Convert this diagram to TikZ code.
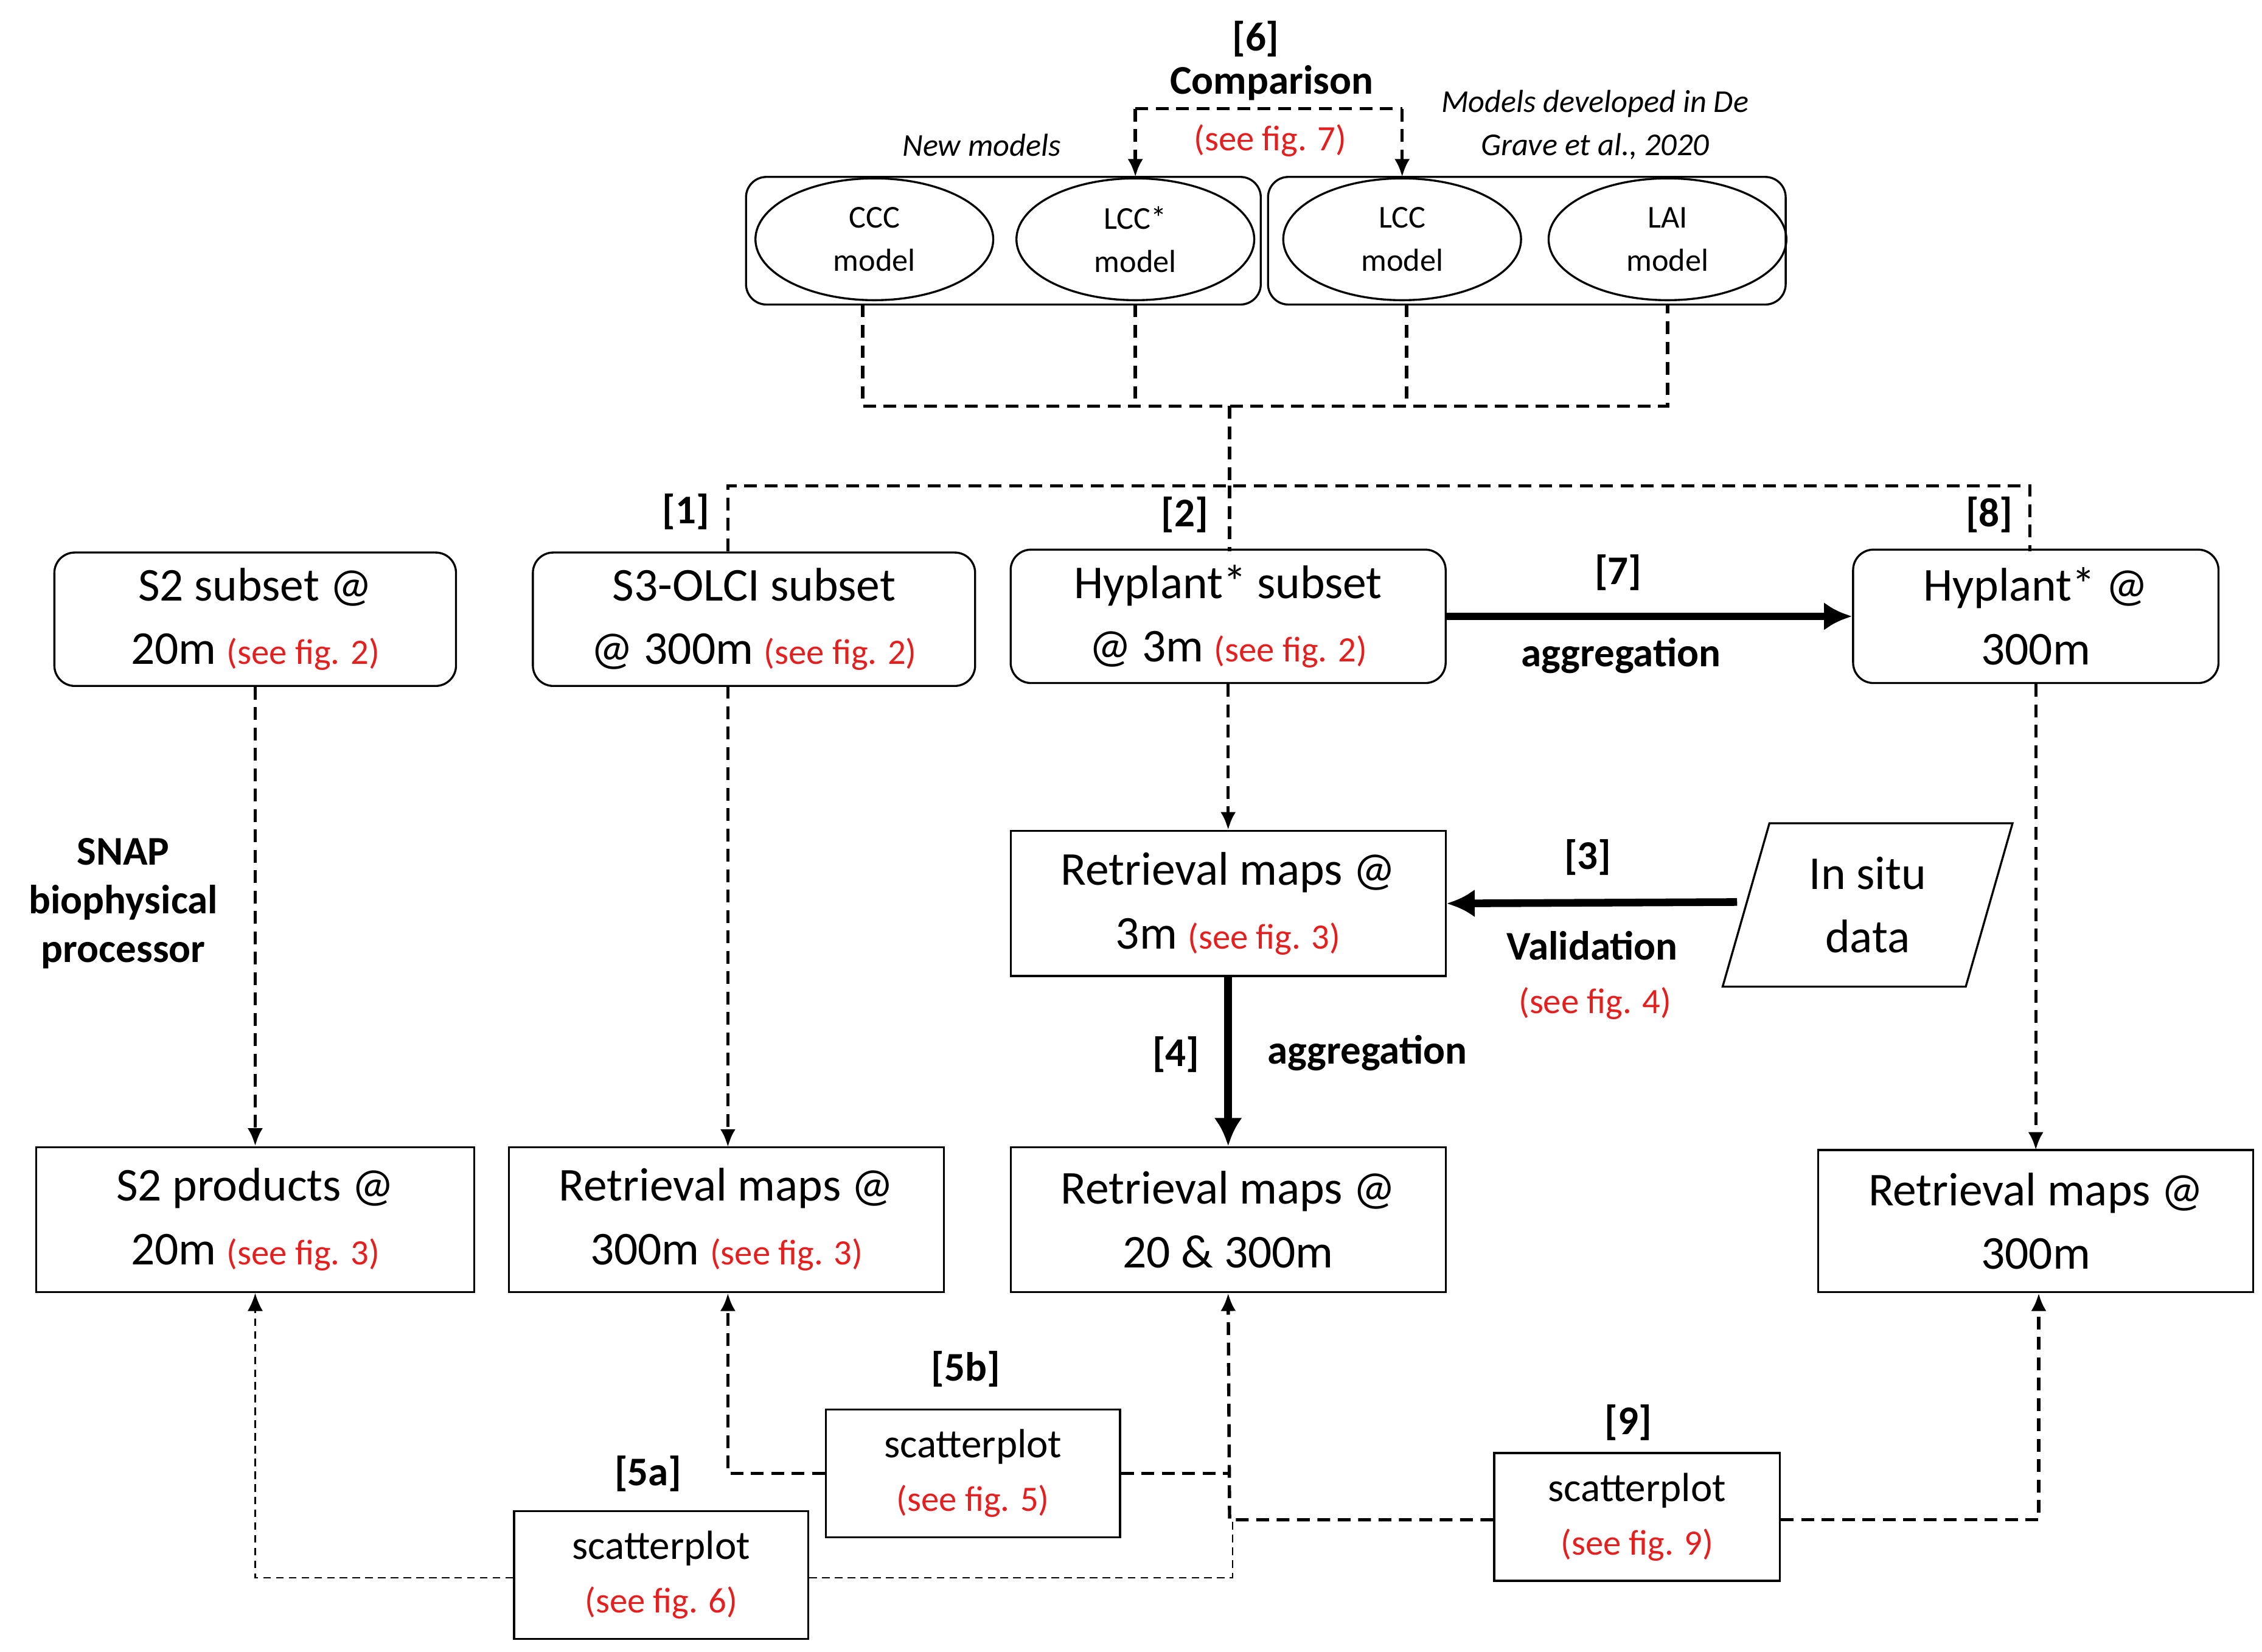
\documentclass[tikz,border=0pt]{standalone}
\usepackage{fontspec}
\setmainfont{Carlito}
\usetikzlibrary{arrows.meta,shapes.geometric}
\definecolor{rd}{RGB}{230,30,30}
\newcommand{\seefig}[1]{{\fontsize{14}{16}\selectfont\color{rd}#1}}
\begin{document}
\begin{tikzpicture}[x=0.02cm,y=-0.02cm,
 big/.style={draw,thick,minimum width=#1*0.02cm,minimum height=92*0.02cm,align=center,font=\fontsize{18.5}{25}\selectfont,inner sep=1pt},
 rbig/.style={big=#1,rounded corners=8pt},
 ell/.style={draw,thick,ellipse,minimum width=164*0.02cm,minimum height=84*0.02cm,align=center,font=\fontsize{12.5}{17}\selectfont},
 lab/.style={font=\bfseries\fontsize{16}{19}\selectfont,align=center},
 dsh/.style={line width=1.3pt,dash pattern=on 5pt off 3pt},
 ar/.style={-{Latex[length=7pt,width=6pt]}},
 tar/.style={line width=3pt,-{Latex[length=11pt,width=11pt]}},
 sc/.style={draw,thick,minimum width=#1*0.02cm,minimum height=88*0.02cm,align=center,font=\fontsize{16}{21}\selectfont}]
\useasboundingbox (0,0) rectangle (1560,1139);
% top groups
\node[draw,thick,rounded corners=8pt,minimum width=355*0.02cm,minimum height=88*0.02cm] (g1) at (692,166) {};
\node[draw,thick,rounded corners=8pt,minimum width=357*0.02cm,minimum height=88*0.02cm] (g2) at (1053,166) {};
\node[ell] (ccc) at (603,165) {CCC\\model};
\node[ell] (lccs) at (783,165) {LCC*\\model};
\node[ell] (lcc) at (967,165) {LCC\\model};
\node[ell] (lai) at (1150,165) {LAI\\model};
\node[font=\itshape\fontsize{12.5}{17}\selectfont] (nm) at (677,100) {New models};
\node[font=\itshape\fontsize{12.5}{17}\selectfont,align=center] (md) at (1100,86) {Models developed in De\\Grave et al., 2020};
\node[lab] (l6) at (866,27) {[6]};
\node[lab] (cmp) at (877,57) {Comparison};
\node (s7) at (876,97) {\seefig{(see fig. 7)}};
\coordinate (c6a) at (783,75); \coordinate (c6b) at (967,75);
\draw[dsh,ar] (c6a) -- (783,122);
\draw[dsh,ar] (c6b) -- (967,122);
\draw[dsh] (c6a) -- (c6b);
% collector
\draw[dsh] (595,210) -- (595,280) -- (1150,280) -- (1150,210);
\draw[dsh] (783,210) -- (783,280);
\draw[dsh] (970,210) -- (970,280);
\draw[dsh] (848,280) -- (848,335);
\draw[dsh] (502,380) -- (502,335) -- (1400,335) -- (1400,380);
\draw[dsh] (848,335) -- (848,380);
\node[lab] at (473,353) {[1]};
\node[lab] at (817,355) {[2]};
\node[lab] at (1372,355) {[8]};
% row 1
\node[rbig=277] (s2) at (176,427) {S2 subset @\\20m \seefig{(see fig. 2)}};
\node[rbig=305] (s3) at (520,427) {S3-OLCI subset\\@ 300m \seefig{(see fig. 2)}};
\node[rbig=300] (hy) at (847,425) {Hyplant* subset\\@ 3m \seefig{(see fig. 2)}};
\node[rbig=252] (hy3) at (1404,425) {Hyplant* @\\300m};
\draw[tar] (hy.east) -- (hy3.west);
\node[lab] at (1116,395) {[7]};
\node[lab] at (1118,452) {aggregation};
\node[lab] at (85,623) {SNAP\\biophysical\\processor};
% row 2
\node[big=300,minimum height=100*0.02cm] (r3) at (847,623) {Retrieval maps @\\3m \seefig{(see fig. 3)}};
\node[draw,thick,trapezium,trapezium left angle=74,trapezium right angle=106,minimum width=200*0.02cm,minimum height=102*0.02cm,align=center,font=\fontsize{18.5}{25}\selectfont,inner sep=1pt] (is) at (1288,624) {In situ\\data};
\draw[tar] (1198,622) -- (r3.east);
\node[lab] at (1095,591) {[3]};
\node[lab] at (1098,652) {Validation};
\node at (1100,692) {\seefig{(see fig. 4)}};
% row 3
\node[big=302,minimum height=100*0.02cm] (s2p) at (176,841) {S2 products @\\20m \seefig{(see fig. 3)}};
\node[big=300,minimum height=100*0.02cm] (r300) at (501,841) {Retrieval maps @\\300m \seefig{(see fig. 3)}};
\node[big=300,minimum height=100*0.02cm] (r20) at (847,841) {Retrieval maps @\\20 \& 300m};
\node[big=300,minimum height=98*0.02cm] (rr) at (1404,842) {Retrieval maps @\\300m};
\draw[tar] (r3.south) -- (r20.north);
\node[lab] at (811,727) {[4]};
\node[lab] at (943,726) {aggregation};
\draw[dsh,ar] (s2.south) -- (s2p.north);
\draw[dsh,ar] (502,473) -- (502,791);
\draw[dsh,ar] (hy.south) -- (r3.north);
\draw[dsh,ar] (hy3.south) -- (1404,793);
% scatterplots
\node[sc=203] (sa) at (456,1086) {scatterplot\\\seefig{(see fig. 6)}};
\node[sc=203] (sb) at (671,1016) {scatterplot\\\seefig{(see fig. 5)}};
\node[sc=197] (s9) at (1129,1046) {scatterplot\\\seefig{(see fig. 9)}};
\node[lab] at (447,1016) {[5a]};
\node[lab] at (666,944) {[5b]};
\node[lab] at (1123,981) {[9]};
\draw[semithick,dash pattern=on 3pt off 2pt,ar] (sa.west|-0,1088) -- (176,1088) -- (s2p.south);
\draw[semithick,dash pattern=on 3pt off 2pt] (sa.east|-0,1088) -- (850,1088) -- (850,1048);
\draw[dsh,ar] (sb.west) -- (502,1016) -- (r300.south-|502,0);
\draw[dsh] (sb.east) -- (848,1016);
\draw[dsh,ar] (s9.west|-0,1048) -- (848,1048) -- (r20.south);
\draw[dsh,ar] (s9.east|-0,1048) -- (1406,1048) -- (rr.south-|1406,0);
\end{tikzpicture}
\end{document}
